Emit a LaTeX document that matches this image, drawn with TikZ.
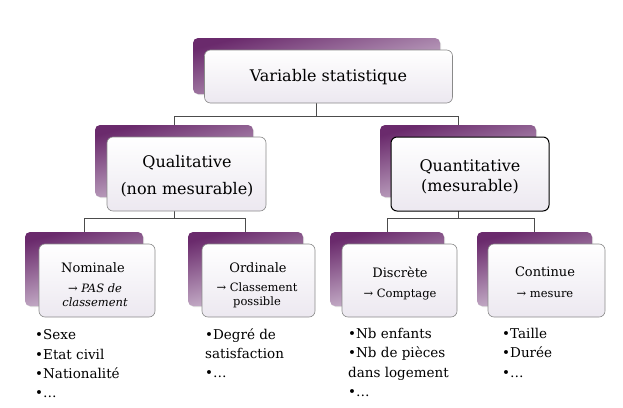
\documentclass[tikz,border=0pt]{standalone}
\usepackage{fontspec}
\setmainfont{DejaVu Serif}
\usetikzlibrary{shadows,backgrounds}
\definecolor{pdark}{HTML}{6A2A6C}
\definecolor{plight}{HTML}{D9CBDC}
\definecolor{lav}{HTML}{ECE8F0}
\definecolor{edge}{HTML}{8A8A8A}
\tikzset{
  backbox/.style={rounded corners=5pt, top color=pdark, bottom color=plight, shading angle=15, draw=none, inner sep=0pt, outer sep=0pt, drop shadow={opacity=0.25, shadow xshift=1pt, shadow yshift=-1pt}},
  frontbox/.style={rounded corners=6pt, draw=edge, line width=0.6pt, top color=white, bottom color=lav, inner sep=0pt, outer sep=0pt},
  boxtext/.style={align=center, inner sep=0pt, text=black},
  bigtext/.style={boxtext, font=\fontsize{16}{27}\selectfont},
  smalltitle/.style={boxtext, font=\fontsize{13}{15}\selectfont},
  subtext/.style={boxtext, font=\fontsize{11.5}{14}\selectfont},
  listtext/.style={align=left, anchor=north west, inner sep=0pt, font=\fontsize{13.5}{19.3}\selectfont},
  conn/.style={draw=gray!60!black, line width=0.5pt},
}
\begin{document}
\begin{tikzpicture}[x=1pt,y=-1pt]
\useasboundingbox (0,0) rectangle (623,407);
% back boxes (purple)
\node[backbox, minimum width=247pt, minimum height=56pt] (b0) at (316.5,66) {};
\node[backbox, minimum width=158pt, minimum height=72pt] (b1) at (174,161) {};
\node[backbox, minimum width=156pt, minimum height=72pt] (b2) at (458,161) {};
\node[backbox, minimum width=118pt, minimum height=74pt] (b3) at (84,269) {};
\node[backbox, minimum width=115pt, minimum height=74pt] (b4) at (245.5,269) {};
\node[backbox, minimum width=114pt, minimum height=74pt] (b5) at (387,269) {};
\node[backbox, minimum width=115pt, minimum height=74pt] (b6) at (534.5,269) {};
% front boxes
\node[frontbox, minimum width=248pt, minimum height=53pt] (f0) at (328.5,76.5) {};
\node[frontbox, minimum width=159pt, minimum height=74pt] (f1) at (186.5,174) {};
\node[frontbox, draw=black, line width=1pt, minimum width=158pt, minimum height=74pt] (f2) at (470,174) {};
\node[frontbox, minimum width=116pt, minimum height=73pt] (f3) at (97,280.5) {};
\node[frontbox, minimum width=113pt, minimum height=73pt] (f4) at (258.5,280.5) {};
\node[frontbox, minimum width=115pt, minimum height=73pt] (f5) at (399.5,280.5) {};
\node[frontbox, minimum width=117pt, minimum height=73pt] (f6) at (546.5,280.5) {};
% connectors
\coordinate (h0) at (316.5,116);
\coordinate (h1) at (174,218);
\coordinate (h2) at (458,218);
\begin{scope}[on background layer]
\draw[conn] (b0.center) -- (h0);
\draw[conn] (h0) -| (b1.north);
\draw[conn] (h0) -| (b2.north);
\draw[conn] (b1.center) -- (h1);
\draw[conn] (h1) -| (b3.north);
\draw[conn] (h1) -| (b4.north);
\draw[conn] (b2.center) -- (h2);
\draw[conn] (h2) -| (b5.north);
\draw[conn] (h2) -| (b6.north);
\end{scope}
% texts
\node[bigtext] (t0) at (328.5,77) {Variable statistique};
\node[bigtext] (t1a) at (187,163) {Qualitative};
\node[bigtext] (t1b) at (187,190) {(non mesurable)};
\node[bigtext] (t2a) at (470,167) {Quantitative};
\node[bigtext] (t2b) at (470,187) {(mesurable)};
\node[smalltitle] (t3) at (93,268) {Nominale};
\node[subtext, font=\fontsize{11.5}{14}\selectfont\itshape] (s3) at (95,295) {→ PAS de\\classement};
\node[smalltitle] (t4) at (258,268) {Ordinale};
\node[subtext] (s4) at (257,295) {→ Classement\\possible};
\node[smalltitle] (t5) at (400,272) {Discrète};
\node[subtext] (s5) at (400,295) {→ Comptage};
\node[smalltitle] (t6) at (545,272) {Continue};
\node[subtext] (s6) at (545,295) {→ mesure};
% lists
\node[listtext] (l3) at (35,329.5) {•Sexe\\•Etat civil\\•Nationalité\\•…};
\node[listtext] (l4) at (205,328) {•Degré de\\satisfaction\\•…};
\node[listtext] (l5) at (348,328) {•Nb enfants\\•Nb de pièces\\dans logement\\•…};
\node[listtext] (l6) at (502,328) {•Taille\\•Durée\\•…};
\end{tikzpicture}
\end{document}
